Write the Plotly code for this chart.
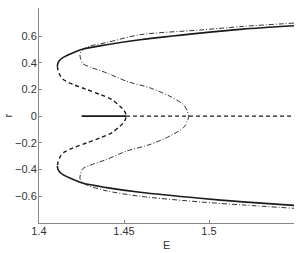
import plotly.graph_objects as go

# Stable branch (solid), upper and lower
solid_up_E = [1.4108, 1.4111, 1.4122, 1.4143, 1.4202, 1.426, 1.4398, 1.4594, 1.4947, 1.52, 1.55]
solid_up_r = [0.373, 0.395, 0.418, 0.44, 0.475, 0.503, 0.535, 0.572, 0.622, 0.652, 0.677]
solid_lo_E = [1.4108, 1.4111, 1.4122, 1.4143, 1.4202, 1.426, 1.4398, 1.4594, 1.4947, 1.52, 1.55]
solid_lo_r = [-0.373, -0.395, -0.418, -0.44, -0.475, -0.503, -0.535, -0.57, -0.615, -0.642, -0.668]

# Trivial branch r = 0
zero_stable_E = [1.4251, 1.4512]
zero_stable_r = [0.0, 0.0]
zero_unstable_E = [1.4512, 1.55]
zero_unstable_r = [0.0, 0.0]

# Unstable branch (dashed) connecting folds to r=0
dashed_E = [1.4108, 1.4112, 1.4124, 1.4143, 1.4202, 1.428, 1.436, 1.4428, 1.4476, 1.4496, 1.4508, 1.4512,
            1.4508, 1.4496, 1.4476, 1.4428, 1.436, 1.428, 1.4202, 1.4143, 1.4124, 1.4112, 1.4108]
dashed_r = [0.373, 0.345, 0.305, 0.274, 0.237, 0.2, 0.162, 0.125, 0.075, 0.05, 0.025, 0.0,
            -0.025, -0.05, -0.075, -0.125, -0.162, -0.2, -0.237, -0.274, -0.305, -0.345, -0.373]

# Second solution family (dash-dot)
dashdot_E = [1.55, 1.52, 1.4947, 1.4594, 1.44, 1.43, 1.426, 1.4241,
             1.4245, 1.4256, 1.430, 1.4398, 1.4516, 1.4653, 1.477, 1.4849, 1.4872, 1.488,
             1.4872, 1.4849, 1.477, 1.4653, 1.4516, 1.4398, 1.430, 1.4256, 1.4245, 1.4241,
             1.426, 1.43, 1.44, 1.4594, 1.4947, 1.52, 1.55]
dashdot_r = [0.697, 0.672, 0.645, 0.61, 0.552, 0.525, 0.5, 0.468,
             0.43, 0.395, 0.368, 0.324, 0.261, 0.212, 0.149, 0.087, 0.04, 0.0,
             -0.04, -0.087, -0.149, -0.212, -0.261, -0.324, -0.368, -0.395, -0.43, -0.468,
             -0.5, -0.525, -0.56, -0.6, -0.642, -0.665, -0.69]

x_ticks = [1.4, 1.45, 1.5]
x_tick_text = ["1.4", "1.45", "1.5"]
y_ticks = [-0.6, -0.4, -0.2, 0, 0.2, 0.4, 0.6]
y_tick_text = ["\u22120.6", "\u22120.4", "\u22120.2", "0", "0.2", "0.4", "0.6"]

W, H = 300, 253
ML, MR, MT, MB = 39, 6, 8, 30

LC = "#1a1a1a"
fig = go.Figure()
fig.add_trace(go.Scatter(x=dashdot_E, y=dashdot_r, mode="lines",
                         line=dict(color="#333", width=1, dash="5px,2px,1px,2px", shape="spline", smoothing=0.8)))
fig.add_trace(go.Scatter(x=dashed_E, y=dashed_r, mode="lines",
                         line=dict(color=LC, width=1.4, dash="4px,3px", shape="spline", smoothing=0.8)))
fig.add_trace(go.Scatter(x=zero_unstable_E, y=zero_unstable_r, mode="lines",
                         line=dict(color=LC, width=1.4, dash="4px,3px")))
fig.add_trace(go.Scatter(x=zero_stable_E, y=zero_stable_r, mode="lines",
                         line=dict(color=LC, width=1.6)))
fig.add_trace(go.Scatter(x=solid_up_E, y=solid_up_r, mode="lines",
                         line=dict(color=LC, width=1.6, shape="spline", smoothing=0.8)))
fig.add_trace(go.Scatter(x=solid_lo_E, y=solid_lo_r, mode="lines",
                         line=dict(color=LC, width=1.6, shape="spline", smoothing=0.8)))

plot_w = W - ML - MR
plot_h = H - MT - MB
fig.update_layout(
    width=W, height=H,
    margin=dict(l=ML, r=MR, t=MT, b=MB),
    plot_bgcolor="white", paper_bgcolor="white",
    showlegend=False,
    font=dict(family="Liberation Sans, Arial, sans-serif", size=11, color="#333"),
    annotations=[
        dict(text="E", x=0.5, xref="paper", y=(H - MB - 245) / plot_h, yref="paper",
             yanchor="middle", showarrow=False, font=dict(size=11, color="#333")),
        dict(text="r", x=(7 - ML) / plot_w, xref="paper", y=0.5, yref="paper", textangle=-90,
             xanchor="center", showarrow=False, font=dict(size=11, color="#333")),
    ],
)

fig.update_xaxes(range=[1.4, 1.55], tickvals=x_ticks, ticktext=x_tick_text,
                 showgrid=False, zeroline=False, showline=True, linecolor="#888", linewidth=1,
                 ticks="inside", ticklen=3, tickcolor="#888", ticklabelstandoff=-2)
fig.update_yaxes(range=[-0.8, 0.81], tickvals=y_ticks, ticktext=y_tick_text,
                 showgrid=False, zeroline=False, showline=True, linecolor="#888", linewidth=1,
                 ticks="inside", ticklen=3, tickcolor="#888", ticklabelstandoff=-1)

fig.write_html("out.html", config={"displayModeBar": False},
               post_script="document.body.style.margin='0';document.body.style.overflow='hidden';")
